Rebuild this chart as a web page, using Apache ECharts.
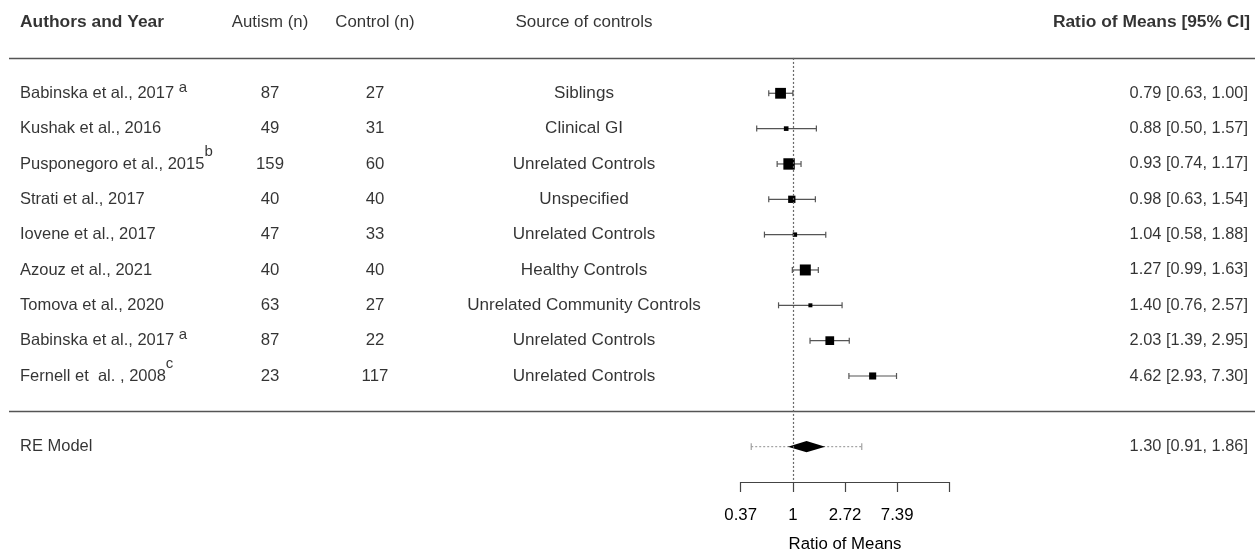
<!DOCTYPE html>
<html><head><meta charset="utf-8">
<script src="https://cdn.jsdelivr.net/npm/echarts@6/dist/echarts.min.js"></script>
<style>html,body{margin:0;padding:0;background:#fff}#c{width:1255px;height:551px}</style>
</head><body><div id="c"></div>
<script>
// ---------- data ----------
const studies = ['Babinska et al., 2017 ', 'Kushak et al., 2016', 'Pusponegoro et al., 2015', 'Strati et al., 2017', 'Iovene et al., 2017', 'Azouz et al., 2021', 'Tomova et al., 2020', 'Babinska et al., 2017 ', 'Fernell et  al. , 2008'];
const notes = ['a', '', 'b', '', '', '', '', 'a', 'c'];
const autismN = [87, 49, 159, 40, 47, 40, 63, 87, 23];
const controlN = [27, 31, 60, 40, 33, 40, 27, 22, 117];
const sources = ['Siblings', 'Clinical GI', 'Unrelated Controls', 'Unspecified', 'Unrelated Controls', 'Healthy Controls', 'Unrelated Community Controls', 'Unrelated Controls', 'Unrelated Controls'];
const ratio = [0.79, 0.88, 0.93, 0.98, 1.04, 1.27, 1.40, 2.03, 4.62];
const lower = [0.63, 0.50, 0.74, 0.63, 0.58, 0.99, 0.76, 1.39, 2.93];
const upper = [1.00, 1.57, 1.17, 1.54, 1.88, 1.63, 2.57, 2.95, 7.30];
const weights = [12.6, 9.6, 12.9, 10.9, 9.5, 12.7, 9.3, 11.6, 10.8];
const reLabel = 'RE Model';
const reRatio = 1.30;
const reCI = [0.91, 1.86];
const rePI = [0.45, 3.75];
const headers = ['Authors and Year', 'Autism (n)', 'Control (n)', 'Source of controls', 'Ratio of Means [95% CI]'];
const axisTicksLn = [-1, 0, 1, 2, 3];
const axisTitle = 'Ratio of Means';

// ---------- layout ----------
const FONT = '"Liberation Sans", Arial, sans-serif';
const FS = 16.8;
const FSB = 17.4;
const k = studies.length;
const rowOf = i => k - i;           // study rows k..1
const headerRow = k + 2, reRow = -1;
const colX = {author: 20, autism: 270, control: 375, source: 584, ci: 1248};
const fmtCI = (e, l, u) => e.toFixed(2) + ' [' + l.toFixed(2) + ', ' + u.toFixed(2) + ']';
// superscript style per note: 'a' sits low after a space, 'b'/'c' sit high
const supKind = n => (n === 'a' ? 'lo' : 'hi');

function textSeries(items, x, align, bold, fs, lines) {
  const base = {fontSize: fs, fontFamily: FONT, color: '#000'};
  const sup = {fontSize: 15, fontFamily: FONT, color: '#000'};
  const s = {
    type: 'scatter', xAxisIndex: 0, yAxisIndex: 0, symbolSize: 0, silent: true, clip: false,
    data: items.map(it => ({value: [x, it.row], txt: it.text})),
    label: {
      show: true, position: 'inside', align: align, verticalAlign: 'middle',
      color: '#000', fontSize: fs, fontFamily: FONT, fontWeight: bold ? 'bold' : 'normal',
      formatter: p => p.data.txt,
      rich: {
        mlo: Object.assign({lineHeight: 26.5, verticalAlign: 'middle'}, base),
        slo: Object.assign({lineHeight: 18, verticalAlign: 'top'}, sup),
        mhi: Object.assign({lineHeight: 39, verticalAlign: 'middle'}, base),
        shi: Object.assign({lineHeight: 18, verticalAlign: 'top'}, sup)
      }
    }
  };
  if (lines) {
    s.markLine = {
      silent: true, symbol: 'none', label: {show: false},
      lineStyle: {color: '#555', width: 1.4, type: 'solid'},
      data: lines
    };
  }
  return s;
}

const authorItems = studies.map((s, i) => ({
  row: rowOf(i),
  text: notes[i] ? '{m' + supKind(notes[i]) + '|' + s + '}{s' + supKind(notes[i]) + '|' + notes[i] + '}' : s
}));
authorItems.push({row: reRow, text: reLabel});

const ciItems = ratio.map((r, i) => ({row: rowOf(i), text: fmtCI(r, lower[i], upper[i])}));
ciItems.push({row: reRow, text: fmtCI(reRatio, reCI[0], reCI[1])});

const series = [
  textSeries([{row: headerRow, text: headers[0]}], colX.author, 'left', true, FSB,
    [[{coord: [9, k + 1]}, {coord: [1255, k + 1]}], [{coord: [9, 0]}, {coord: [1255, 0]}]]),
  textSeries([{row: headerRow, text: headers[1]}], colX.autism, 'center', false, FS),
  textSeries([{row: headerRow, text: headers[2]}], colX.control, 'center', false, FS),
  textSeries([{row: headerRow, text: headers[3]}], colX.source, 'center', false, 17),
  textSeries([{row: headerRow, text: headers[4]}], 1250, 'right', true, FSB),
  textSeries(authorItems, colX.author, 'left', false, 16.5),
  textSeries(autismN.map((n, i) => ({row: rowOf(i), text: String(n)})), colX.autism, 'center', false, FS),
  textSeries(controlN.map((n, i) => ({row: rowOf(i), text: String(n)})), colX.control, 'center', false, FS),
  textSeries(sources.map((n, i) => ({row: rowOf(i), text: n})), colX.source, 'center', false, 17.1),
  textSeries(ciItems, colX.ci, 'right', false, 16.4)
];

const wMin = Math.min(...weights), wMax = Math.max(...weights);
const sizeOf = w => 4 + (w - wMin) / (wMax - wMin) * 7.4;

// study estimates with CI
series.push({
  type: 'custom', xAxisIndex: 1, yAxisIndex: 1, silent: true, clip: false,
  data: ratio.map((r, i) => [Math.log(r), Math.log(lower[i]), Math.log(upper[i]), rowOf(i), weights[i]]),
  encode: {x: [0, 1, 2], y: 3},
  renderItem(params, api) {
    const y = api.coord([0, api.value(3)])[1];
    const xe = api.coord([api.value(0), 0])[0];
    const xl = api.coord([api.value(1), 0])[0];
    const xh = api.coord([api.value(2), 0])[0];
    const sz = sizeOf(api.value(4));
    const ls = {stroke: '#555', lineWidth: 1.2};
    return {type: 'group', children: [
      {type: 'line', shape: {x1: xl, y1: y, x2: xh, y2: y}, style: ls},
      {type: 'line', shape: {x1: xl, y1: y - 3, x2: xl, y2: y + 3}, style: ls},
      {type: 'line', shape: {x1: xh, y1: y - 3, x2: xh, y2: y + 3}, style: ls},
      {type: 'rect', shape: {x: xe - sz / 2, y: y - sz / 2, width: sz, height: sz}, style: {fill: '#000'}}
    ]};
  },
  markLine: {
    silent: true, symbol: 'none', label: {show: false},
    lineStyle: {color: '#666', width: 1.2, type: [2, 2]},
    data: [[{coord: [0, k + 1]}, {coord: [0, -2]}]]
  }
});

// RE model diamond with prediction interval
series.push({
  type: 'custom', xAxisIndex: 1, yAxisIndex: 1, silent: true, clip: false,
  data: [[Math.log(reRatio), Math.log(reCI[0]), Math.log(reCI[1]), reRow, Math.log(rePI[0]), Math.log(rePI[1])]],
  encode: {x: [0, 1, 2, 4, 5], y: 3},
  renderItem(params, api) {
    const y = api.coord([0, api.value(3)])[1];
    const xe = api.coord([api.value(0), 0])[0];
    const xl = api.coord([api.value(1), 0])[0];
    const xh = api.coord([api.value(2), 0])[0];
    const pl = api.coord([api.value(4), 0])[0];
    const ph = api.coord([api.value(5), 0])[0];
    const ds = {stroke: '#999', lineWidth: 1.1, lineDash: [2, 2]};
    const cs = {stroke: '#999', lineWidth: 1.1};
    return {type: 'group', children: [
      {type: 'line', shape: {x1: pl, y1: y, x2: ph, y2: y}, style: ds},
      {type: 'line', shape: {x1: pl, y1: y - 3.3, x2: pl, y2: y + 3.3}, style: cs},
      {type: 'line', shape: {x1: ph, y1: y - 3.3, x2: ph, y2: y + 3.3}, style: cs},
      {type: 'polygon', shape: {points: [[xl, y], [xe, y - 5.6], [xh, y], [xe, y + 5.6]]}, style: {fill: '#000'}}
    ]};
  }
});

const chart = echarts.init(document.getElementById('c'), null, {renderer: 'canvas'});
chart.setOption({
  animation: false,
  backgroundColor: '#fff',
  textStyle: {fontFamily: FONT},
  grid: [
    {left: 0, right: 0, top: 22.6, bottom: 69, outerBoundsMode: 'none', containLabel: false},
    {left: 740.7, width: 208.6, top: 22.6, bottom: 69, outerBoundsMode: 'none', containLabel: false}
  ],
  xAxis: [
    {gridIndex: 0, type: 'value', min: 0, max: 1255, show: false},
    {gridIndex: 1, type: 'value', min: axisTicksLn[0], max: axisTicksLn[axisTicksLn.length - 1], interval: 1,
      axisLine: {show: true, onZero: false, lineStyle: {color: '#444', width: 1.2}},
      axisTick: {show: true, length: 10, lineStyle: {color: '#444', width: 1.2}},
      splitLine: {show: false},
      axisLabel: {
        margin: 25, color: '#000', fontSize: FS, fontFamily: FONT,
        formatter: v => v === axisTicksLn[axisTicksLn.length - 1] ? '' : (v === 0 ? '1' : Math.exp(v).toFixed(2))
      },
      name: axisTitle, nameLocation: 'middle', nameGap: 54,
      nameTextStyle: {color: '#000', fontSize: FS, fontFamily: FONT}
    }
  ],
  yAxis: [
    {gridIndex: 0, type: 'value', min: -2, max: headerRow, show: false},
    {gridIndex: 1, type: 'value', min: -2, max: headerRow, show: false}
  ],
  series: series
});
</script>
</body></html>
